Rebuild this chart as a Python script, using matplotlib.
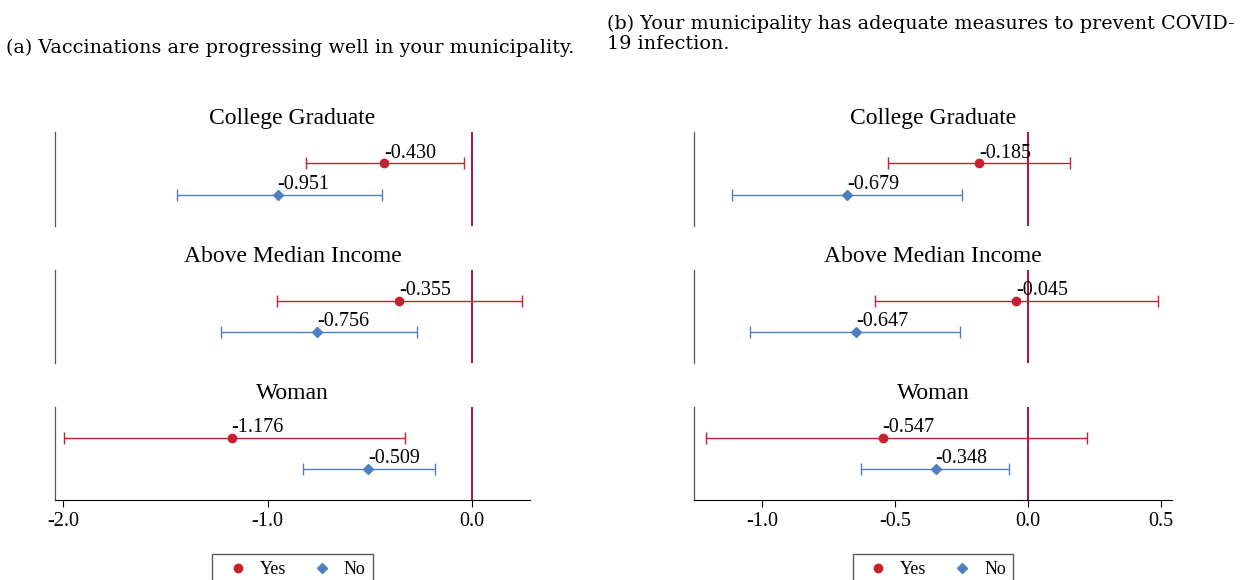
import matplotlib.pyplot as plt
from matplotlib.lines import Line2D

groups = ['College Graduate', 'Above Median Income', 'Woman']

# panel (a)
a_yes = [-0.430, -0.355, -1.176]
a_yes_lo = [-0.814, -0.956, -1.995]
a_yes_hi = [-0.039, 0.245, -0.328]
a_no = [-0.951, -0.756, -0.509]
a_no_lo = [-1.441, -1.230, -0.828]
a_no_hi = [-0.441, -0.270, -0.181]

# panel (b)
b_yes = [-0.185, -0.045, -0.547]
b_yes_lo = [-0.526, -0.575, -1.211]
b_yes_hi = [0.158, 0.489, 0.222]
b_no = [-0.679, -0.647, -0.348]
b_no_lo = [-1.113, -1.045, -0.628]
b_no_hi = [-0.248, -0.256, -0.071]

RED = '#c8202f'
BLUE = '#4f7fc0'
ZERO = '#a8123e'
W, H = 1249, 580
SERIF = 'Liberation Serif'

fig = plt.figure(figsize=(W / 100, H / 100), dpi=100)

rows = [(132, 226), (270, 363), (407, 500)]


def panel(x0, x1, xlim, ticks, ticklabels, yes, ylo, yhi, no, nlo, nhi):
    for i, (t, b) in enumerate(rows):
        ax = fig.add_axes([x0 / W, 1 - b / H, (x1 - x0) / W, (b - t) / H])
        ax.set_xlim(*xlim)
        ax.set_ylim(0, 3)
        ax.axvline(0, color=ZERO, lw=1.4)
        ax.errorbar(yes[i], 2, xerr=[[yes[i] - ylo[i]], [yhi[i] - yes[i]]],
                    fmt='o', color=RED, ms=6, capsize=4, lw=1)
        ax.errorbar(no[i], 1, xerr=[[no[i] - nlo[i]], [nhi[i] - no[i]]],
                    fmt='D', color=BLUE, ms=5.5, capsize=4, lw=1)
        ax.text(yes[i], 2.02, f'{yes[i]:.3f}', ha='left', va='bottom',
                fontsize=14.5, family=SERIF)
        ax.text(no[i], 1.02, f'{no[i]:.3f}', ha='left', va='bottom',
                fontsize=14.5, family=SERIF)
        ax.set_title(groups[i], fontsize=17, family=SERIF, pad=6)
        ax.set_yticks([])
        for s in ['top', 'right']:
            ax.spines[s].set_visible(False)
        ax.spines['left'].set_color('#555555')
        ax.spines['left'].set_linewidth(0.9)
        if i < 2:
            ax.spines['bottom'].set_visible(False)
            ax.set_xticks([])
        else:
            ax.set_xticks(ticks)
            ax.set_xticklabels(ticklabels, fontsize=14.5, family=SERIF)
            ax.tick_params(axis='x', length=5)
    handles = [Line2D([], [], marker='o', color=RED, ls='', ms=6, label='Yes'),
               Line2D([], [], marker='D', color=BLUE, ls='', ms=5.5, label='No')]
    cx = (x0 + x1) / 2 / W
    fig.legend(handles=handles, loc='lower center', bbox_to_anchor=(cx, -0.025),
               ncol=2, frameon=True, fancybox=False, edgecolor='#333333',
               prop={'family': SERIF, 'size': 13}, handletextpad=0.2,
               columnspacing=1.0, borderpad=0.4)


panel(55, 530, (-2.04, 0.284), [-2.0, -1.0, 0.0], ['-2.0', '-1.0', '0.0'],
      a_yes, a_yes_lo, a_yes_hi, a_no, a_no_lo, a_no_hi)
panel(694, 1172, (-1.256, 0.541), [-1.0, -0.5, 0.0, 0.5],
      ['-1.0', '-0.5', '0.0', '0.5'],
      b_yes, b_yes_lo, b_yes_hi, b_no, b_no_lo, b_no_hi)

fig.text(6 / W, 1 - 48 / H, '(a) Vaccinations are progressing well in your municipality.',
         fontsize=13.8, family='DejaVu Serif', va='center')
fig.text(607 / W, 1 - 34 / H,
         '(b) Your municipality has adequate measures to prevent COVID-\n19 infection.',
         fontsize=13.8, family='DejaVu Serif', va='center', linespacing=1.15)

fig.savefig('out.png', dpi=100)
